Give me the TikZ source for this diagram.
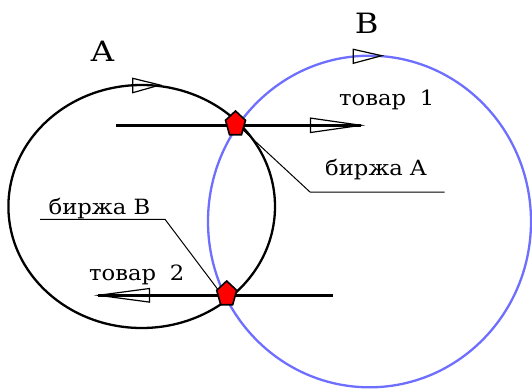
\documentclass[tikz,border=0pt]{standalone}
\usepackage{fontspec}
\setmainfont{DejaVu Serif}
\newfontfamily\lblfont[FakeStretch=1.08]{DejaVu Serif}
\newfontfamily\bigfont[FakeStretch=1.15]{DejaVu Serif}
\usetikzlibrary{calc}
\definecolor{bblue}{RGB}{110,110,255}
\begin{document}
\begin{tikzpicture}[x=1pt,y=-1pt,
  ring/.style={line width=2.3pt},
  flow/.style={line width=2.4pt},
  tri/.style={line width=1.2pt, line join=miter},
  leader/.style={line width=1pt, black},
  pent/.style={fill=red, draw=black, line width=1.6pt, line join=miter},
  big/.style={font=\bigfont\fontsize{28}{32}\selectfont, inner sep=0pt},
  lbl/.style={font=\lblfont\fontsize{21}{24}\selectfont, inner sep=0pt}]
\useasboundingbox (0,0) rectangle (532,388);
% rings
\draw[ring] (141.7,206.5) ellipse [x radius=133.3, y radius=121.5];
\draw[ring, bblue] (369.5,221.5) ellipse [x radius=161.5, y radius=165.8];
% direction marks on the rings
\draw[tri] (132.7,78.3) -- (160,85) -- (132.7,92.7) -- cycle;
\draw[tri] (353.3,49.3) -- (381.7,55.7) -- (353.3,63.3) -- cycle;
% exchange points
\coordinate (exA) at (235.5,123);
\coordinate (exB) at (226.7,293);
% goods flows
\coordinate (g1s) at (116,125.3);
\coordinate (g1e) at (361,125.3);
\coordinate (g2s) at (333,295.3);
\coordinate (g2e) at (98.4,295.3);
\draw[flow] (g1s) -- (g1e);
\draw[tri] ($(g1e)+(-50.5,-7.2)$) -- (g1e) -- ($(g1e)+(-50.5,7.2)$) -- cycle;
\draw[flow] (g2s) -- (g2e);
\draw[tri] ($(g2e)+(51,-6.8)$) -- (g2e) -- ($(g2e)+(51,6.8)$) -- cycle;
% leaders
\coordinate (lA1) at (444.5,192);
\coordinate (lA2) at (310,192);
\coordinate (lB1) at (40,219.3);
\coordinate (lB2) at (165,219.3);
\coordinate (lBend) at (219,291);
\draw[leader] (lA1) -- (lA2) -- (exA);
\draw[leader] (lB1) -- (lB2) -- (lBend);
% pentagons
\foreach \p in {exA,exB}{
  \draw[pent] ($(\p)+(0,-12)$) -- ($(\p)+(10,-2.7)$) -- ($(\p)+(6,11.7)$)
    -- ($(\p)+(-6,11.7)$) -- ($(\p)+(-10,-2.7)$) -- cycle;
}
% labels
\node[big, anchor=base] (tA) at (102.5,61.7) {A};
\node[big, anchor=base] (tB) at (366.7,33.3) {B};
\node[lbl, anchor=base west] (t1) at (339,105) {товар\hspace{0.65em}1};
\node[lbl, anchor=base west] (t2) at (89,280.7) {товар\hspace{0.65em}2};
\node[lbl, anchor=base west] (bA) at (325,175) {биржа A};
\node[lbl, anchor=base west] (bB) at (48.5,214) {биржа B};
\end{tikzpicture}
\end{document}
